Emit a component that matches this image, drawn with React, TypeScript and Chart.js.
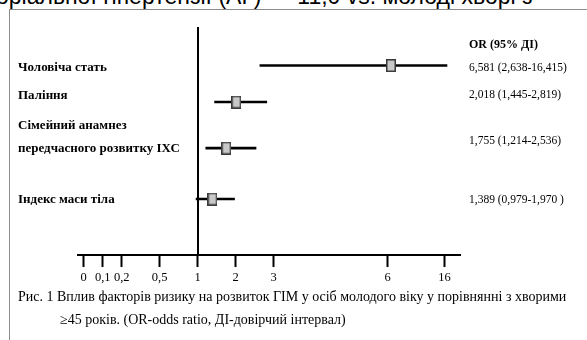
import React, { useEffect, useRef } from "react";
import { Chart, registerables, LinearScale } from "chart.js";

Chart.register(...registerables);

// ---- data ----
const factorLines: string[][] = [
  ["Чоловіча стать"],
  ["Паління"],
  ["Сімейний анамнез", "передчасного розвитку ІХС"],
  ["Індекс маси тіла"],
];
const oddsRatio = [6.581, 2.018, 1.755, 1.389];
const ciLow = [2.638, 1.445, 1.214, 0.979];
const ciHigh = [16.415, 2.819, 2.536, 1.97];
const rowOrder = [0, 0.82, 1.855, 3];
const ciLabels = [
  "6,581 (2,638-16,415)",
  "2,018 (1,445-2,819)",
  "1,755 (1,214-2,536)",
  "1,389 (0,979-1,970 )",
];
const headerLabel = "OR (95% ДІ)";
const tickValues = [0, 0.1, 0.2, 0.5, 1, 2, 3, 6, 16];
// uneven spacing of the hand-drawn axis (in slot units)
const tickSlots = [0, 0.5, 1, 2, 3, 4, 5, 8, 9.5];
const captionLine1 =
  "Рис. 1 Вплив факторів ризику на розвиток ГІМ у осіб молодого віку у порівнянні з хворими";
const captionLine2 = "≥45 років. (OR-odds ratio, ДІ-довірчий інтервал)";
const topLine = "оріальної гіпертензії (АГ) — 11,0 vs. молоді хворі з";

function toSlot(v: number): number {
  const n = tickValues.length;
  let i = 0;
  if (v <= tickValues[0]) i = 0;
  else if (v >= tickValues[n - 1]) i = n - 2;
  else {
    while (v > tickValues[i + 1]) i++;
  }
  const t = (v - tickValues[i]) / (tickValues[i + 1] - tickValues[i]);
  return tickSlots[i] + t * (tickSlots[i + 1] - tickSlots[i]);
}
function fromSlot(s: number): number {
  const n = tickSlots.length;
  let i = 0;
  if (s <= tickSlots[0]) i = 0;
  else if (s >= tickSlots[n - 1]) i = n - 2;
  else {
    while (s > tickSlots[i + 1]) i++;
  }
  const t = (s - tickSlots[i]) / (tickSlots[i + 1] - tickSlots[i]);
  return tickValues[i] + t * (tickValues[i + 1] - tickValues[i]);
}

class WarpScale extends LinearScale {
  static id = "warp";
  static defaults = {};
  determineDataLimits() {
    const o: any = this.options;
    (this as any).min = o.min;
    (this as any).max = o.max;
  }
  buildTicks() {
    return tickValues.map((value) => ({ value }));
  }
  getPixelForValue(value: number) {
    if (value == null || isNaN(value)) return NaN;
    const a = toSlot((this as any).min);
    const b = toSlot((this as any).max);
    return this.getPixelForDecimal((toSlot(value) - a) / (b - a));
  }
  getValueForPixel(pixel: number) {
    const a = toSlot((this as any).min);
    const b = toSlot((this as any).max);
    return fromSlot(a + this.getDecimalForPixel(pixel) * (b - a));
  }
}
Chart.register(WarpScale as any);

const serif = '"Liberation Serif", "Times New Roman", serif';

function makeBox(): HTMLCanvasElement {
  const c = document.createElement("canvas");
  c.width = 10;
  c.height = 13;
  const g = c.getContext("2d")!;
  g.fillStyle = "#c8c8c8";
  g.strokeStyle = "#3a3a3a";
  g.lineWidth = 1.5;
  g.fillRect(0.75, 0.75, 8.5, 11.5);
  g.strokeRect(0.75, 0.75, 8.5, 11.5);
  return c;
}

export default function App() {
  const ref = useRef<HTMLCanvasElement>(null);

  useEffect(() => {
    if (!ref.current) return;
    const box = makeBox();
    const chart = new Chart(ref.current, {
      type: "scatter",
      data: {
        datasets: [
          {
            type: "scatter",
            order: 0,
            data: oddsRatio.map((v, i) => ({ x: v, y: rowOrder[i] })),
            pointStyle: box as any,
            pointRadius: 6,
            pointHoverRadius: 6,
          } as any,
          {
            type: "bar",
            order: 1,
            indexAxis: "y",
            data: ciLow.map((lo, i) => ({ x: [lo, ciHigh[i]], y: rowOrder[i] })),
            backgroundColor: "#000",
            borderWidth: 0,
            barThickness: 2,
          } as any,
        ],
      },
      options: {
        animation: false,
        responsive: false,
        devicePixelRatio: 1,
        layout: { padding: { left: 78, right: 127, top: 28, bottom: 52 } },
        plugins: { legend: { display: false }, tooltip: { enabled: false } },
        scales: {
          x: {
            type: "warp" as any,
            min: -0.03,
            max: 18.7,
            position: "bottom",
            offset: false,
            grid: {
              display: true,
              drawOnChartArea: false,
              drawTicks: true,
              tickLength: 12,
              tickWidth: 2,
              tickColor: "#000",
              offset: false,
            },
            border: { display: true, width: 2, color: "#000" },
            ticks: {
              autoSkip: false,
              maxRotation: 0,
              padding: 3,
              color: "#000",
              font: { family: serif, size: 12.5 },
              callback: (v: any) => String(v).replace(".", ","),
            },
          } as any,
          y: {
            type: "linear",
            reverse: true,
            min: -0.843,
            max: 4.258,
            offset: false,
            position: { x: 1 } as any,
            grid: { display: false, offset: false },
            border: { display: true, width: 2, color: "#000" },
            ticks: { display: false },
          },
        },
      },
    });
    return () => chart.destroy();
  }, []);

  const labelStyle = (top: number, left: number, size: number, bold: boolean): React.CSSProperties => ({
    position: "absolute",
    top: top - 8,
    left,
    lineHeight: "16px",
    fontSize: size,
    fontFamily: serif,
    fontWeight: bold ? "bold" : "normal",
    whiteSpace: "nowrap",
    color: "#000",
  });

  const leftY = [[66.5], [95], [125, 148], [199]];
  const rightY = [67, 93.5, 140, 199];

  return (
    <div style={{ position: "fixed", left: 0, top: 0, width: 587, height: 340, overflow: "hidden", background: "#fff" }}>
      <div
        style={{
          position: "absolute",
          left: -4,
          top: -15,
          fontFamily: '"Liberation Sans", Arial, sans-serif',
          fontSize: 23,
          lineHeight: "23px",
          whiteSpace: "nowrap",
          color: "#000",
        }}
      >
        {topLine}
      </div>
      <div
        style={{
          position: "absolute",
          left: 9,
          top: 9,
          width: 600,
          height: 400,
          borderLeft: "1px solid #8c8c8c",
          borderTop: "1px solid #8c8c8c",
        }}
      />
      <canvas ref={ref} width={587} height={340} style={{ position: "absolute", left: 0, top: 0, width: 587, height: 340 }} />
      {factorLines.map((lines, i) =>
        lines.map((t, j) => (
          <div key={"l" + i + "-" + j} style={labelStyle(leftY[i][j], 18, 13, true)}>
            {t}
          </div>
        ))
      )}
      <div style={labelStyle(44, 469, 12, true)}>{headerLabel}</div>
      {ciLabels.map((t, i) => (
        <div key={"r" + i} style={labelStyle(rightY[i], 469, 11.5, false)}>
          {t}
        </div>
      ))}
      <div style={labelStyle(297, 18, 14, false)}>{captionLine1}</div>
      <div style={labelStyle(320, 60, 14, false)}>{captionLine2}</div>
    </div>
  );
}
